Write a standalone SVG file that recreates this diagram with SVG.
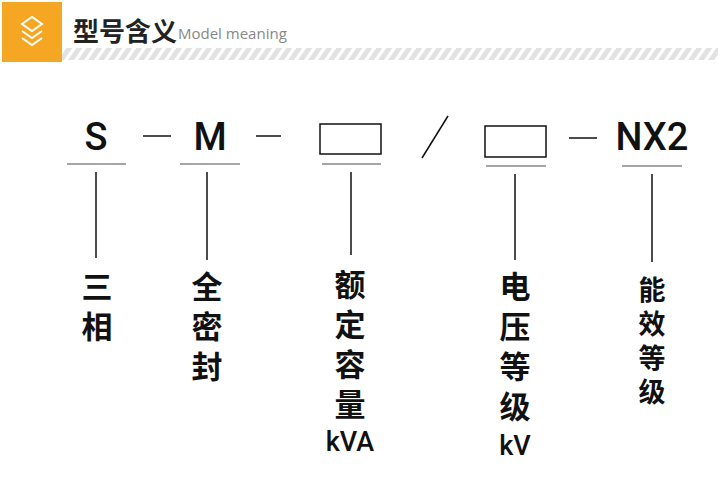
<svg xmlns="http://www.w3.org/2000/svg" width="718" height="498" viewBox="0 0 718 498">
<defs>
<pattern id="st" width="10" height="12" patternUnits="userSpaceOnUse" patternTransform="skewX(-35)">
<rect width="10" height="12" fill="#e2e2e2"/><rect x="6" width="4" height="12" fill="#fff"/>
</pattern>
<style>
.ln{stroke:#111;stroke-width:1.5;fill:none}
.ul{stroke:#888;stroke-width:1.5}
.big{font-family:Roboto,"Liberation Sans",sans-serif;font-weight:500;font-size:38px;fill:#111}
.cn{font-family:"Noto Sans CJK SC",sans-serif;font-weight:bold;font-size:31px;fill:#111;text-anchor:middle}
.cs{font-family:"Noto Sans CJK SC",sans-serif;font-weight:bold;font-size:27px;fill:#111;text-anchor:middle}
.en{font-family:Roboto,"Liberation Sans",sans-serif;font-weight:500;font-size:27px;fill:#111;text-anchor:middle}
</style>
</defs>
<rect width="718" height="498" fill="#fff"/>
<g id="header">
<rect x="2" y="2" width="60" height="60" fill="#f5a623"/>
<g fill="none" stroke="#fff" stroke-width="2"><path d="M22 24 L32 17 L42 24 L32 31 Z"/><path d="M22 31 L32 38 L42 31"/><path d="M22 38 L32 45 L42 38"/></g>
<rect x="62" y="48" width="656" height="12" fill="url(#st)"/>
<text x="73" y="41" font-family="'Noto Sans CJK SC',sans-serif" font-weight="bold" font-size="26" fill="#222">型号含义</text>
<text x="178" y="39" font-family="'Open Sans',sans-serif" font-size="15" fill="#888">Model meaning</text>
</g>
<g id="code">
<text class="big" x="96" y="150" text-anchor="middle">S</text>
<text class="big" x="210" y="150" text-anchor="middle">M</text>
<text class="big" x="652" y="150" text-anchor="middle">NX2</text>
<rect x="320" y="124" width="61" height="30" class="ln" stroke-width="2"/>
<rect x="485" y="126" width="61" height="31" class="ln" stroke-width="2"/>
</g>
<g id="connectors">
<line class="ln" stroke-width="3.5" x1="143" y1="136" x2="171" y2="136"/>
<line class="ln" stroke-width="3.5" x1="256" y1="136" x2="281" y2="136"/>
<line class="ln" stroke-width="3.5" x1="569" y1="138" x2="597" y2="138"/>
<line class="ln" x1="422" y1="158" x2="448" y2="116"/>
<line class="ul" x1="67" y1="164" x2="126" y2="164"/>
<line class="ul" x1="180" y1="164" x2="240" y2="164"/>
<line class="ul" x1="322" y1="164" x2="381" y2="164"/>
<line class="ul" x1="486" y1="166" x2="546" y2="166"/>
<line class="ul" x1="622" y1="166" x2="682" y2="166"/>
<line class="ln" x1="96" y1="172" x2="96" y2="258"/>
<line class="ln" x1="207" y1="172" x2="207" y2="260"/>
<line class="ln" x1="351" y1="172" x2="351" y2="255"/>
<line class="ln" x1="515" y1="174" x2="515" y2="260"/>
<line class="ln" x1="652" y1="174" x2="652" y2="262"/>
</g>
<g id="n1"><text class="cn" x="97" y="298">三</text><text class="cn" x="97" y="338">相</text></g>
<g id="n2"><text class="cn" x="207" y="298">全</text><text class="cn" x="207" y="338">密</text><text class="cn" x="207" y="378">封</text></g>
<g id="n3"><text class="cn" x="350" y="296">额</text><text class="cn" x="350" y="336">定</text><text class="cn" x="350" y="376">容</text><text class="cn" x="350" y="416">量</text><text class="en" x="350" y="451">kVA</text></g>
<g id="n4"><text class="cn" x="515" y="298">电</text><text class="cn" x="515" y="338">压</text><text class="cn" x="515" y="378">等</text><text class="cn" x="515" y="418">级</text><text class="en" x="515" y="455">kV</text></g>
<g id="n5"><text class="cs" x="652" y="300">能</text><text class="cs" x="652" y="334">效</text><text class="cs" x="652" y="368">等</text><text class="cs" x="652" y="402">级</text></g>
</svg>
